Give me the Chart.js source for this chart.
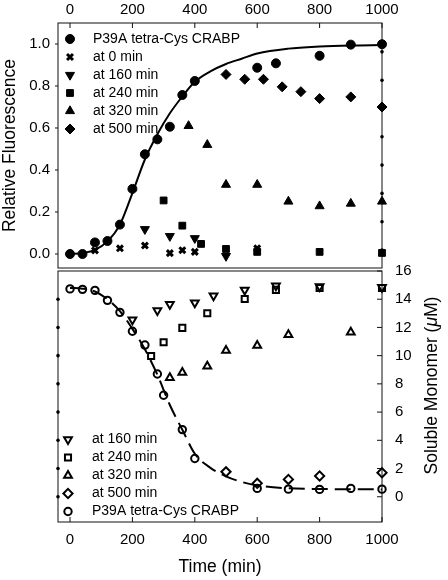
<!DOCTYPE html>
<html>
<head>
<meta charset="utf-8">
<script src="https://cdn.jsdelivr.net/npm/chart.js@4.4.0/dist/chart.umd.min.js"></script>
<style>
  html, body { margin: 0; padding: 0; background: #fff; }
  #wrap { position: relative; width: 448px; height: 580px; }
  #topChart { position: absolute; left: 0; top: 0; }
  #bottomChart { position: absolute; left: 0; top: 256px; }
</style>
</head>
<body>
<div id="wrap">
  <canvas id="topChart" width="448" height="270"></canvas>
  <canvas id="bottomChart" width="448" height="324"></canvas>
</div>
<script>
// tick values
const timeTicks = [0, 200, 400, 600, 800, 1000];
const fluorTicks = [0, 0.2, 0.4, 0.6, 0.8, 1.0];
const monomerTicks = [0, 2, 4, 6, 8, 10, 12, 14, 16];
const dotTicks = [0, 2, 4, 6, 8, 10, 12, 14];

// top panel - relative fluorescence
const fluorP39ATime = [0, 40, 80, 120, 160, 200, 240, 280, 320, 360, 400, 600, 660, 800, 900, 1000];
const fluorP39A = [0.0, 0.0, 0.055, 0.062, 0.14, 0.31, 0.475, 0.546, 0.606, 0.757, 0.824, 0.887, 0.908, 0.944, 0.997, 0.999];
const fluor0Time = [80, 160, 240, 320, 360, 400, 600];
const fluor0 = [0.017, 0.027, 0.04, 0.004, 0.018, 0.01, 0.027];
const fluor160Time = [240, 320, 400, 500];
const fluor160 = [0.118, 0.085, 0.075, -0.01];
const fluor240Time = [300, 360, 420, 500, 600, 800, 1000];
const fluor240 = [0.255, 0.135, 0.048, 0.024, 0.01, 0.01, 0.005];
const fluor320Time = [380, 440, 500, 600, 700, 800, 900, 1000];
const fluor320 = [0.61, 0.52, 0.33, 0.33, 0.25, 0.228, 0.24, 0.25];
const fluor500Time = [500, 560, 620, 680, 740, 800, 900, 1000];
const fluor500 = [0.855, 0.832, 0.832, 0.796, 0.773, 0.74, 0.748, 0.70];
const fluorFitTime = [0, 40, 80, 120, 160, 200, 240, 280, 320, 360, 400, 450, 500, 550, 600, 700, 800, 900, 1000];
const fluorFit = [0.0, 0.005, 0.02, 0.06, 0.14, 0.29, 0.45, 0.57, 0.67, 0.75, 0.82, 0.87, 0.905, 0.93, 0.955, 0.978, 0.988, 0.993, 0.995];

// bottom panel - soluble monomer (uM)
const mono160Time = [200, 280, 320, 400, 460, 560, 660, 800, 1000];
const mono160 = [12.55, 13.2, 13.65, 13.75, 14.25, 14.65, 14.95, 14.9, 14.85];
const mono240Time = [260, 300, 360, 440, 560, 660, 800, 1000];
const mono240 = [9.97, 10.95, 11.97, 13.0, 14.02, 14.66, 14.8, 14.8];
const mono320Time = [320, 360, 440, 500, 600, 700, 900];
const mono320 = [8.43, 8.8, 9.25, 10.37, 10.72, 11.48, 11.66];
const mono500Time = [500, 600, 700, 800, 1000];
const mono500 = [1.77, 0.95, 1.23, 1.47, 1.7];
const monoP39ATime = [0, 40, 80, 120, 160, 200, 240, 280, 300, 360, 400, 600, 700, 800, 900, 1000];
const monoP39A = [14.73, 14.7, 14.63, 13.92, 13.07, 11.73, 10.75, 8.7, 7.19, 4.76, 2.71, 0.59, 0.54, 0.52, 0.59, 0.54];
const monoFitTime = [0, 40, 80, 120, 160, 200, 240, 280, 320, 360, 400, 450, 500, 550, 600, 700, 800, 900, 1000];
const monoFit = [14.8, 14.75, 14.55, 14.0, 13.15, 11.9, 10.45, 8.65, 6.5, 4.75, 3.05, 2.05, 1.45, 1.05, 0.8, 0.6, 0.55, 0.53, 0.52];

const monomerTitle = ['Soluble Monomer (', 'μ', 'M)'];

const FONT = "'Liberation Sans', Arial, Helvetica, sans-serif";
Chart.defaults.font.family = FONT;
Chart.defaults.font.size = 15;
Chart.defaults.color = '#000';

function pts(xs, ys) {
  return xs.map((x, i) => ({ x: x, y: ys[i] }));
}
function setTicks(values) {
  return scale => { scale.ticks = values.map(v => ({ value: v })); };
}
// fixed axis size, no extra room for labels sticking out at the ends
function fixWidth(w) {
  return s => { s.width = w; s.paddingTop = 0; s.paddingBottom = 0; };
}
function fixHeight(h) {
  return s => { s.height = h; s.paddingLeft = 0; s.paddingRight = 0; };
}

// box around plot area + tick marks / dots drawn at scale ticks
const framePlugin = {
  id: 'frame',
  beforeDatasetsDraw(chart, args, opts) {
    const ctx = chart.ctx;
    const a = chart.chartArea;
    ctx.save();
    ctx.strokeStyle = '#111';
    ctx.lineWidth = 1;
    ctx.strokeRect(a.left, a.top, a.right - a.left, a.bottom - a.top);
    (opts.marks || []).forEach(m => {
      const s = chart.scales[m.scale];
      s.ticks.forEach(t => {
        const p = s.getPixelForValue(t.value);
        ctx.beginPath();
        if (m.dot) {
          const x = m.edge === 'left' ? a.left : a.right;
          ctx.fillStyle = '#000';
          ctx.arc(x, p, 1.8, 0, Math.PI * 2);
          ctx.fill();
          return;
        }
        if (m.edge === 'top') { ctx.moveTo(p, a.top); ctx.lineTo(p, a.top + m.len); }
        if (m.edge === 'bottom') { ctx.moveTo(p, a.bottom); ctx.lineTo(p, a.bottom - m.len); }
        if (m.edge === 'left') { ctx.moveTo(a.left, p); ctx.lineTo(a.left + m.len, p); }
        if (m.edge === 'right') { ctx.moveTo(a.right, p); ctx.lineTo(a.right - m.len, p); }
        ctx.stroke();
      });
    });
    ctx.restore();
  }
};

// legend inside the plot area
const legendPlugin = {
  id: 'insideLegend',
  afterDatasetsDraw(chart, args, opts) {
    const ctx = chart.ctx;
    const a = chart.chartArea;
    const items = chart.data.datasets.filter(d => !d.isFit);
    const y0 = opts.fromBottom ? a.bottom - opts.y - (items.length - 1) * opts.dy : a.top + opts.y;
    ctx.save();
    ctx.font = '14px ' + FONT;
    ctx.textBaseline = 'middle';
    items.forEach((d, i) => {
      const y = y0 + i * opts.dy;
      ctx.strokeStyle = d.pointBorderColor;
      ctx.fillStyle = d.pointBackgroundColor;
      ctx.lineWidth = d.pointBorderWidth;
      Chart.helpers.drawPoint(ctx, {
        pointStyle: d.pointStyle,
        radius: d.pointRadius,
        rotation: d.pointRotation || 0,
        borderWidth: d.pointBorderWidth
      }, a.left + opts.x, y);
      ctx.fillStyle = '#000';
      ctx.fillText(d.label, a.left + opts.textX, y);
    });
    ctx.restore();
  }
};

// right-hand title, read bottom to top, with italic mu
const sideTitlePlugin = {
  id: 'sideTitle',
  afterDraw(chart, args, opts) {
    const ctx = chart.ctx;
    const a = chart.chartArea;
    const normal = '17.5px ' + FONT;
    const italic = 'italic 17.5px ' + FONT;
    ctx.save();
    ctx.translate(opts.x, (a.top + a.bottom) / 2 + opts.dy);
    ctx.rotate(-Math.PI / 2);
    ctx.fillStyle = '#000';
    ctx.textBaseline = 'middle';
    const fonts = [normal, italic, normal];
    let total = 0;
    const widths = monomerTitle.map((t, i) => { ctx.font = fonts[i]; const w = ctx.measureText(t).width; total += w; return w; });
    let x = -total / 2;
    monomerTitle.forEach((t, i) => {
      ctx.font = fonts[i];
      ctx.fillText(t, x, 0);
      x += widths[i];
    });
    ctx.restore();
  }
};

function marker(style, radius, filled, width, rotation) {
  return {
    pointStyle: style,
    pointRadius: radius,
    pointHoverRadius: radius,
    pointRotation: rotation || 0,
    pointBackgroundColor: filled ? '#000' : 'rgba(0,0,0,0)',
    pointBorderColor: '#000',
    pointBorderWidth: width,
    borderColor: '#000',
    clip: false
  };
}

const topChart = new Chart(document.getElementById('topChart'), {
  type: 'scatter',
  data: {
    datasets: [
      Object.assign({ label: 'P39A tetra-Cys CRABP', data: pts(fluorP39ATime, fluorP39A) }, marker('circle', 4.5, true, 1)),
      Object.assign({ label: 'at 0 min', data: pts(fluor0Time, fluor0) }, marker('crossRot', 4.2, true, 3)),
      Object.assign({ label: 'at 160 min', data: pts(fluor160Time, fluor160) }, marker('triangle', 5.2, true, 1, 180)),
      Object.assign({ label: 'at 240 min', data: pts(fluor240Time, fluor240) }, marker('rect', 4.8, true, 1)),
      Object.assign({ label: 'at 320 min', data: pts(fluor320Time, fluor320) }, marker('triangle', 5.2, true, 1)),
      Object.assign({ label: 'at 500 min', data: pts(fluor500Time, fluor500) }, marker('rectRot', 5, true, 1)),
      {
        label: 'fit', isFit: true, data: pts(fluorFitTime, fluorFit),
        showLine: true, pointRadius: 0, borderColor: '#000', borderWidth: 2,
        cubicInterpolationMode: 'monotone', order: 1
      }
    ]
  },
  options: {
    responsive: false,
    animation: false,
    events: [],
    layout: { autoPadding: false, padding: { top: 0, bottom: 2, left: 0, right: 0 } },
    plugins: {
      legend: { display: false },
      tooltip: { enabled: false },
      frame: {
        marks: [
          { scale: 'x', edge: 'top', len: 5 },
          { scale: 'y', edge: 'left', len: -3 },
          { scale: 'y2', edge: 'right', dot: true }
        ]
      },
      insideLegend: { x: 12, y: 16, dy: 18, textX: 35 }
    },
    scales: {
      x: {
        type: 'linear', position: 'top', min: -38.5, max: 1000,
        afterBuildTicks: setTicks(timeTicks),
        afterFit: fixHeight(23),
        grid: { display: false, drawTicks: false },
        border: { display: false },
        ticks: { padding: 4, maxRotation: 0, callback: v => String(v) }
      },
      y: {
        type: 'linear', position: 'left', min: -0.0667, max: 1.1,
        afterBuildTicks: setTicks(fluorTicks),
        afterFit: fixWidth(58),
        grid: { display: false, drawTicks: false },
        border: { display: false },
        ticks: { padding: 8, callback: v => v.toFixed(1) },
        title: { display: true, text: 'Relative Fluorescence', padding: 0, font: { size: 17.5 } }
      },
      y2: {
        type: 'linear', position: 'right', min: -1.27, max: 16.04,
        afterBuildTicks: setTicks(dotTicks),
        afterFit: fixWidth(66),
        grid: { display: false, drawTicks: false },
        border: { display: false },
        ticks: { display: false }
      }
    }
  },
  plugins: [framePlugin, legendPlugin]
});

const bottomChart = new Chart(document.getElementById('bottomChart'), {
  type: 'scatter',
  data: {
    datasets: [
      Object.assign({ label: 'at 160 min', data: pts(mono160Time, mono160) }, marker('triangle', 4.5, false, 2, 180)),
      Object.assign({ label: 'at 240 min', data: pts(mono240Time, mono240) }, marker('rect', 4.3, false, 2)),
      Object.assign({ label: 'at 320 min', data: pts(mono320Time, mono320) }, marker('triangle', 4.5, false, 2)),
      Object.assign({ label: 'at 500 min', data: pts(mono500Time, mono500) }, marker('rectRot', 4.6, false, 2)),
      Object.assign({ label: 'P39A tetra-Cys CRABP', data: pts(monoP39ATime, monoP39A) }, marker('circle', 3.7, false, 2)),
      {
        label: 'fit', isFit: true, data: pts(monoFitTime, monoFit),
        showLine: true, pointRadius: 0, borderColor: '#000', borderWidth: 2,
        borderDash: [16, 7], cubicInterpolationMode: 'monotone', order: 1
      }
    ]
  },
  options: {
    responsive: false,
    animation: false,
    events: [],
    layout: { autoPadding: false, padding: { top: 15, bottom: 0, left: 0, right: 0 } },
    plugins: {
      legend: { display: false },
      tooltip: { enabled: false },
      frame: {
        marks: [
          { scale: 'x', edge: 'bottom', len: 5 },
          { scale: 'y', edge: 'right', len: 5 },
          { scale: 'yl', edge: 'left', dot: true }
        ]
      },
      insideLegend: { x: 10, y: 10.5, dy: 18, textX: 34, fromBottom: true },
      sideTitle: { x: 432, dy: -11 }
    },
    scales: {
      x: {
        type: 'linear', position: 'bottom', min: -38.5, max: 1000,
        afterBuildTicks: setTicks(timeTicks),
        afterFit: fixHeight(58),
        grid: { display: false, drawTicks: false },
        border: { display: false },
        ticks: { padding: 9, maxRotation: 0, callback: v => String(v) },
        title: { display: true, text: 'Time (min)', padding: { top: 0, bottom: 2 }, font: { size: 17.5 } }
      },
      yl: {
        type: 'linear', position: 'left', min: -1.79, max: 16,
        afterBuildTicks: setTicks(dotTicks),
        afterFit: fixWidth(58),
        grid: { display: false, drawTicks: false },
        border: { display: false },
        ticks: { display: false }
      },
      y: {
        type: 'linear', position: 'right', min: -1.79, max: 16,
        afterBuildTicks: setTicks(monomerTicks),
        afterFit: fixWidth(66),
        grid: { display: false, drawTicks: false },
        border: { display: false },
        ticks: { padding: 13 }
      }
    }
  },
  plugins: [framePlugin, legendPlugin, sideTitlePlugin]
});
</script>
</body>
</html>
